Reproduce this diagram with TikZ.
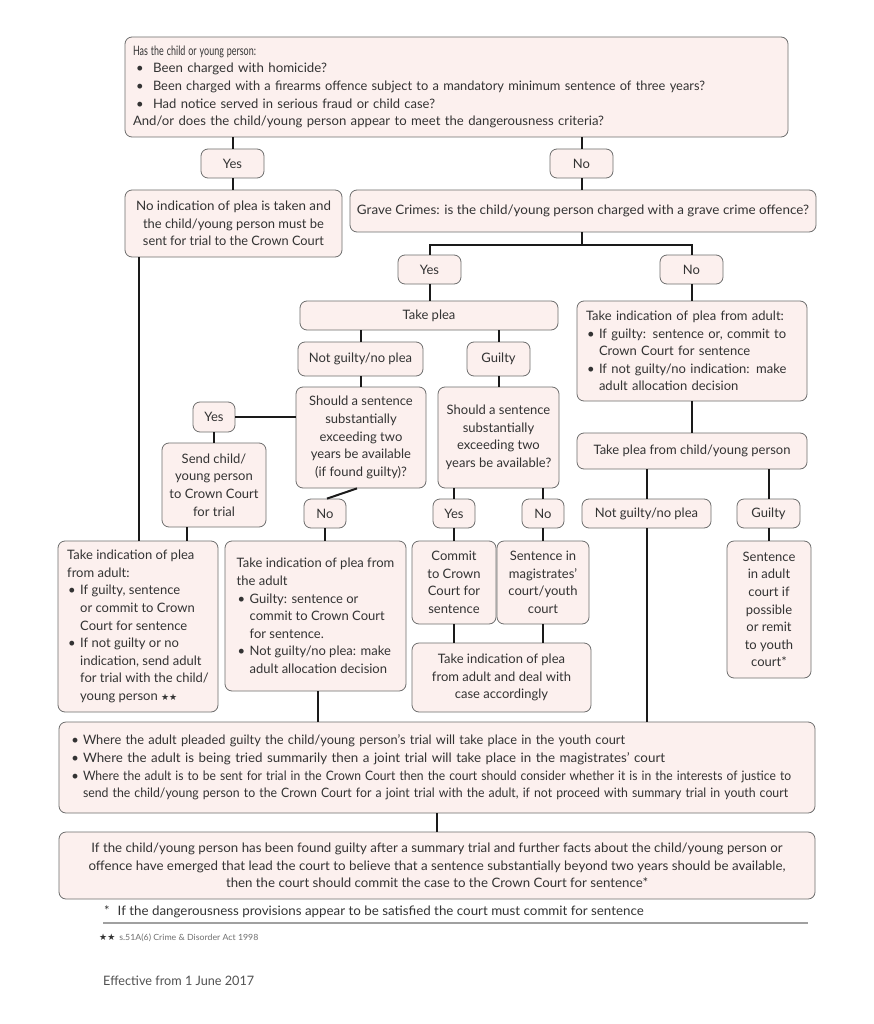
\documentclass[tikz,border=0pt]{standalone}
\usepackage{fontspec}
\usepackage{graphicx}
\setmainfont{Lato}
\newfontfamily\starfont{DejaVu Sans}
\definecolor{boxfill}{HTML}{FCF0EE}
\definecolor{boxline}{HTML}{6E6E6E}
\definecolor{txtc}{HTML}{333333}
\definecolor{linec}{HTML}{1A1A1A}
\definecolor{rulec}{HTML}{A0A0A0}
\definecolor{smallc}{HTML}{707070}
\newcommand{\fw}[2]{\resizebox{#1pt}{\height}{#2}}
\newcommand{\bl}{\makebox[13pt][l]{\hspace{1pt}\textbullet}}
\newcommand{\ind}{\hspace*{13pt}}
\newcommand{\blt}{\makebox[20pt][l]{\hspace{3pt}\textbullet}}
\newcommand{\hb}{\leavevmode\llap{\textbullet\hspace{4pt}}}
\newcommand{\stars}{{\starfont\fontsize{9}{9}\selectfont ★★}}
\begin{document}
\begin{tikzpicture}[x=1pt,y=-1pt,
  box/.style={draw=boxline, fill=boxfill, line width=0.8pt, rounded corners=7pt,
    text=txtc, font=\fontsize{13}{17.6}\selectfont, inner xsep=4pt, inner ysep=2pt},
  conn/.style={draw=linec, line width=2pt},
  ftxt/.style={text=txtc, font=\fontsize{13}{16}\selectfont, inner sep=0pt, anchor=west}]
\fill[white] (0,0) rectangle (873,1024);
\useasboundingbox (0,0) rectangle (873,1024);

% top level
\node[box, text width=647pt, inner xsep=8pt, minimum height=100pt, align=left] (top) at (456.5,87) {%
\fw{123}{Has the child or young person:}\\
\blt\fw{174}{Been charged with homicide?}\\
\blt\fw{552}{Been charged with a firearms offence subject to a mandatory minimum sentence of three years?}\\
\blt\fw{282}{Had notice served in serious fraud or child case?}\\
\fw{471}{And/or does the child/young person appear to meet the dangerousness criteria?}};

\node[box, minimum width=63pt, minimum height=29pt] (yes1) at (232.5,163.5) {Yes};
\node[box, minimum width=63pt, minimum height=29pt] (no1) at (581.5,163.5) {No};

\node[box, minimum width=217pt, minimum height=67pt, align=center] (noind) at (233.5,223.5) {%
\fw{195}{No indication of plea is taken and}\\
\fw{181}{the child/young person must be}\\
\fw{181}{sent for trial to the Crown Court}};

\node[box, minimum width=466pt, minimum height=42pt] (grave) at (583,211) {%
\fw{452}{Grave Crimes: is the child/young person charged with a grave crime offence?}};

\coordinate (gj) at (582,245);
\node[box, minimum width=63pt, minimum height=29pt] (yes2) at (429.5,269.5) {Yes};
\node[box, minimum width=63pt, minimum height=29pt] (no2) at (691.5,269.5) {No};

% grave crimes: yes branch
\node[box, minimum width=258pt, minimum height=29pt] (takeplea) at (429,315.5) {Take plea};
\node[box, minimum width=125pt, minimum height=34pt] (ngnp1) at (360.5,359) {Not guilty/no plea};
\node[box, minimum width=63pt, minimum height=34pt] (guilty1) at (498.5,359) {Guilty};

\node[box, minimum width=130pt, minimum height=101pt, align=center] (should1) at (361,437.5) {%
Should a sentence\\substantially\\exceeding two\\years be available\\(if found guilty)?};
\node[box, minimum width=121pt, minimum height=101pt, align=center] (should2) at (498.5,437.5) {%
Should a sentence\\substantially\\exceeding two\\years be available?};

\node[box, minimum width=42pt, minimum height=30pt] (yes3) at (214,417) {Yes};
\node[box, minimum width=104pt, minimum height=84pt, align=center] (send) at (214,485) {%
Send child/\\young person\\to Crown Court\\for trial};

\node[box, minimum width=42pt, minimum height=29pt] (no3) at (325,513.5) {No};
\node[box, minimum width=42pt, minimum height=29pt] (yes4) at (454,513.5) {Yes};
\node[box, minimum width=42pt, minimum height=29pt] (no4) at (543,513.5) {No};

% grave crimes: no branch
\node[box, text width=212pt, inner xsep=9pt, minimum height=100pt, align=left] (tiadult) at (692,351) {%
Take indication of plea from adult:\\
\bl If guilty: sentence or, commit to\\
\ind Crown Court for sentence\\
\bl If not guilty/no indication: make\\
\ind adult allocation decision};
\node[box, minimum width=230pt, minimum height=36pt] (tpchild) at (692,451) {Take plea from child/young person};
\node[box, minimum width=129pt, minimum height=29pt] (ngnp2) at (646.5,513.5) {Not guilty/no plea};
\node[box, minimum width=63pt, minimum height=29pt] (guilty2) at (768.5,513.5) {Guilty};

% lower row
\node[box, minimum width=160pt, minimum height=171pt, align=left] (leftbox) at (138,626.5) {%
Take indication of plea\\
from adult:\\
\bl If guilty, sentence\\
\ind or commit to Crown\\
\ind Court for sentence\\
\bl If not guilty or no\\
\ind indication, send adult\\
\ind for trial with the child/\\
\ind young person \stars};
\node[box, minimum width=181pt, minimum height=150pt, align=left] (midbox) at (315.5,616) {%
Take indication of plea from\\
the adult\\
\bl Guilty: sentence or\\
\ind commit to Crown Court\\
\ind for sentence.\\
\bl Not guilty/no plea: make\\
\ind adult allocation decision};
\node[box, minimum width=84pt, minimum height=83pt, align=center] (commit) at (454,582.5) {%
Commit\\to Crown\\Court for\\sentence};
\node[box, minimum width=92pt, minimum height=83pt, align=center] (sentmag) at (543,582.5) {%
Sentence in\\magistrates’\\court/youth\\court};
\node[box, minimum width=179pt, minimum height=69pt, align=center] (tideal) at (501.5,677.5) {%
Take indication of plea\\from adult and deal with\\case accordingly};
\node[box, minimum width=84pt, minimum height=137pt, align=center] (sentadult) at (769,609.5) {%
Sentence\\in adult\\court if\\possible\\or remit\\to youth\\court*};

% bottom
\node[box, text width=708pt, inner xsep=24pt, minimum height=91pt, align=left] (wide) at (437,767.5) {%
\hb\fw{542}{Where the adult pleaded guilty the child/young person’s trial will take place in the youth court}\\
\hb\fw{582}{Where the adult is being tried summarily then a joint trial will take place in the magistrates’ court}\\
\hb\fw{708}{Where the adult is to be sent for trial in the Crown Court then the court should consider whether it is in the interests of justice to}\\
\fw{705}{send the child/young person to the Crown Court for a joint trial with the adult, if not proceed with summary trial in youth court}};
\node[box, minimum width=756pt, minimum height=67pt, align=center] (last) at (437,865.5) {%
\fw{691}{If the child/young person has been found guilty after a summary trial and further facts about the child/young person or}\\
\fw{697}{offence have emerged that lead the court to believe that a sentence substantially beyond two years should be available,}\\
\fw{422}{then the court should commit the case to the Crown Court for sentence*}};

% footnotes
\node[ftxt] (fn1) at (104,912) {*\hspace{8pt}\fw{526}{If the dangerousness provisions appear to be satisfied the court must commit for sentence}};
\coordinate (rl) at (103,923);
\coordinate (rr) at (808,923);
\draw[rulec, line width=1.2pt] (rl) -- (rr);
\node[ftxt] (fn2) at (99,938) {\stars\hspace{4pt}{\color{smallc}\fontsize{8.5}{10}\selectfont\fw{139}{s.51A(6) Crime \& Disorder Act 1998}}};
\node[ftxt, text=txtc!85] (eff) at (103,981) {\fw{151}{Effective from 1 June 2017}};

% connectors
\coordinate (lv) at ([xshift=14pt]noind.south west);
\coordinate (sv) at ([xshift=-27pt]send.south);
\coordinate (mv) at ([xshift=2.5pt]midbox.south);
\draw[conn] (yes1.north |- top.south) -- (yes1.north);
\draw[conn] (yes1.south) -- (yes1.south |- noind.north);
\draw[conn] (no1.north |- top.south) -- (no1.north);
\draw[conn] (no1.south) -- (no1.south |- grave.north);
\draw[conn] (gj |- grave.south) -- (gj);
\draw[conn] (yes2.north) |- (gj) -| (no2.north);
\draw[conn] (yes2.south) -- (yes2.south |- takeplea.north);
\draw[conn] (ngnp1.north |- takeplea.south) -- (ngnp1.north);
\draw[conn] (guilty1.north |- takeplea.south) -- (guilty1.north);
\draw[conn] (ngnp1.south) -- (ngnp1.south |- should1.north);
\draw[conn] (guilty1.south) -- (guilty1.south |- should2.north);
\draw[conn] (yes3.east) -- (yes3.east -| should1.west);
\draw[conn] (yes3.south) -- (yes3.south |- send.north);
\draw[conn] ([xshift=-4pt]should1.south) -- ([xshift=2pt]no3.north);
\draw[conn] (yes4.north |- should2.south) -- (yes4.north);
\draw[conn] (no4.north |- should2.south) -- (no4.north);
\draw[conn] (yes4.south) -- (yes4.south |- commit.north);
\draw[conn] (no4.south) -- (no4.south |- sentmag.north);
\draw[conn] (commit.south) -- (commit.south |- tideal.north);
\draw[conn] (sentmag.south) -- (sentmag.south |- tideal.north);
\draw[conn] (no2.south) -- (no2.south |- tiadult.north);
\draw[conn] (tiadult.south) -- (tpchild.north);
\draw[conn] (ngnp2.north |- tpchild.south) -- (ngnp2.north);
\draw[conn] (guilty2.north |- tpchild.south) -- (guilty2.north);
\draw[conn] (guilty2.south) -- (guilty2.south |- sentadult.north);
\draw[conn] (ngnp2.south) -- (ngnp2.south |- wide.north);
\draw[conn] (lv) -- (lv |- leftbox.north);
\draw[conn] (sv) -- (sv |- leftbox.north);
\draw[conn] (no3.south) -- (no3.south |- midbox.north);
\draw[conn] (mv) -- (mv |- wide.north);
\draw[conn] (wide.south) -- (wide.south |- last.north);
\end{tikzpicture}
\end{document}
